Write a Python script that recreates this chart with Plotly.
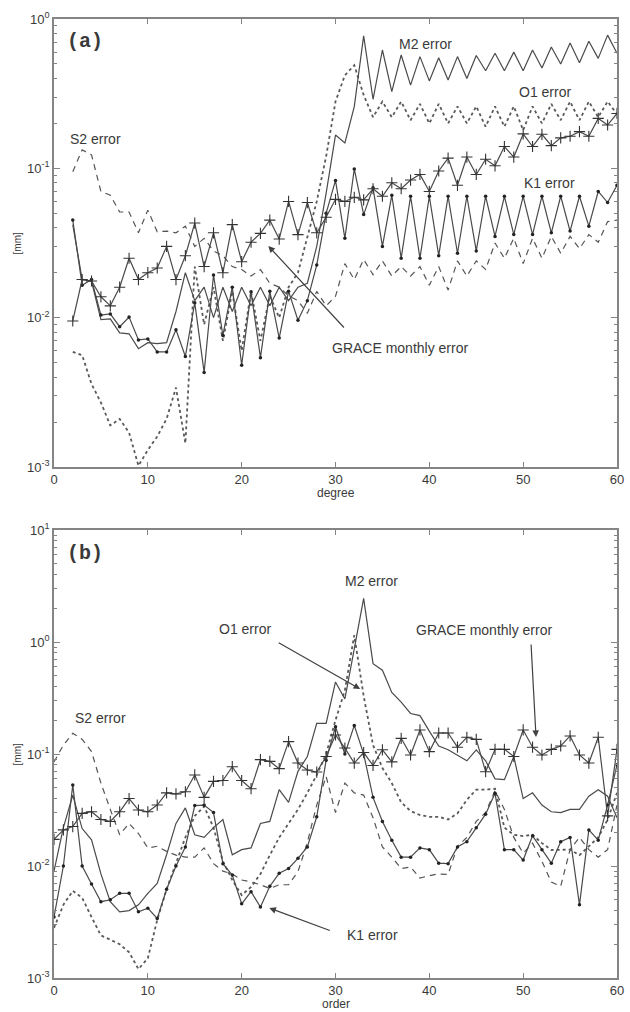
import plotly.graph_objects as go

# ---------------- data: panel (a) vs degree ----------------
degree = list(range(2, 61))

grace_a = [0.0095, 0.018, 0.0176, 0.0138, 0.012, 0.016, 0.025, 0.018, 0.020, 0.0215,
           0.030, 0.018, 0.026, 0.043, 0.022, 0.037, 0.020, 0.042, 0.0237, 0.032,
           0.0367, 0.045, 0.0336, 0.060, 0.036, 0.059, 0.037, 0.047, 0.062, 0.060,
           0.064, 0.0615, 0.073, 0.065, 0.080, 0.073, 0.0835, 0.091, 0.070, 0.096,
           0.117, 0.077, 0.119, 0.091, 0.115, 0.104, 0.140, 0.119, 0.170, 0.140,
           0.169, 0.142, 0.160, 0.164, 0.176, 0.164, 0.216, 0.195, 0.233]

k1_a = [0.045, 0.0165, 0.018, 0.0104, 0.0106, 0.0087, 0.0101, 0.0071, 0.0072, 0.0059,
        0.0059, 0.0083, 0.0055, 0.0126, 0.0043, 0.0193, 0.0076, 0.016, 0.0048, 0.0149,
        0.0054, 0.015, 0.0073, 0.015, 0.0096, 0.013, 0.0225, 0.050, 0.083, 0.034,
        0.099, 0.049, 0.074, 0.030, 0.066, 0.025, 0.065, 0.025, 0.065, 0.026,
        0.065, 0.027, 0.065, 0.028, 0.065, 0.035, 0.065, 0.036, 0.065, 0.036,
        0.065, 0.037, 0.065, 0.038, 0.065, 0.041, 0.070, 0.059, 0.077]

m2_a = [0.042, 0.018, 0.0175, 0.0097, 0.0098, 0.0079, 0.0078, 0.0062, 0.0068, 0.0067,
        0.0068, 0.011, 0.020, 0.013, 0.016, 0.010, 0.016, 0.011, 0.016, 0.012,
        0.016, 0.012, 0.016, 0.013, 0.016, 0.017, 0.030, 0.068, 0.167, 0.148,
        0.259, 0.77, 0.29, 0.62, 0.326, 0.574, 0.361, 0.56, 0.385, 0.55,
        0.39, 0.56, 0.40, 0.57, 0.45, 0.59, 0.45, 0.60, 0.45, 0.62,
        0.47, 0.65, 0.50, 0.69, 0.51, 0.71, 0.545, 0.78, 0.59]

o1_a = [0.0059, 0.0056, 0.0036, 0.0027, 0.0019, 0.0021, 0.0017, 0.00102, 0.0013, 0.0016,
        0.0021, 0.0034, 0.00144, 0.022, 0.009, 0.016, 0.007, 0.015, 0.006, 0.015,
        0.007, 0.014, 0.010, 0.016, 0.020, 0.035, 0.060, 0.12, 0.28, 0.42,
        0.49, 0.31, 0.22, 0.28, 0.22, 0.28, 0.21, 0.27, 0.20, 0.27,
        0.20, 0.26, 0.20, 0.26, 0.19, 0.26, 0.19, 0.26, 0.18, 0.26,
        0.20, 0.27, 0.21, 0.28, 0.21, 0.28, 0.22, 0.28, 0.23]

s2_a = [0.095, 0.133, 0.123, 0.070, 0.066, 0.051, 0.051, 0.037, 0.0525, 0.0376,
        0.038, 0.037, 0.041, 0.030, 0.034, 0.028, 0.026, 0.022, 0.021, 0.019,
        0.021, 0.017, 0.016, 0.014, 0.013, 0.0107, 0.015, 0.012, 0.0139, 0.023,
        0.018, 0.0245, 0.0194, 0.024, 0.019, 0.022, 0.019, 0.022, 0.0165, 0.022,
        0.0153, 0.024, 0.019, 0.024, 0.021, 0.0316, 0.025, 0.034, 0.023, 0.034,
        0.025, 0.035, 0.027, 0.035, 0.029, 0.036, 0.032, 0.044, 0.045]

# ---------------- data: panel (b) vs order ----------------
order = list(range(0, 61))

grace_b = [0.0173, 0.021, 0.0225, 0.0295, 0.0305, 0.026, 0.025, 0.0305, 0.040, 0.0316,
           0.0305, 0.035, 0.045, 0.044, 0.046, 0.065, 0.041, 0.057, 0.058, 0.077,
           0.058, 0.049, 0.089, 0.086, 0.074, 0.129, 0.083, 0.072, 0.069, 0.095,
           0.148, 0.113, 0.083, 0.103, 0.079, 0.109, 0.085, 0.138, 0.098, 0.164,
           0.105, 0.154, 0.154, 0.115, 0.141, 0.135, 0.0695, 0.110, 0.110, 0.095,
           0.164, 0.115, 0.098, 0.110, 0.118, 0.145, 0.098, 0.083, 0.141, 0.028,
           0.11]

m2_b = [0.009, 0.022, 0.043, 0.0216, 0.0171, 0.0085, 0.0048, 0.0039, 0.0040, 0.0045,
        0.0057, 0.0070, 0.0126, 0.024, 0.033, 0.019, 0.018, 0.022, 0.026, 0.0126,
        0.014, 0.0145, 0.024, 0.025, 0.048, 0.037, 0.070, 0.095, 0.188, 0.188,
        0.44, 0.31, 0.87, 2.45, 0.64, 0.56, 0.355, 0.29, 0.23, 0.22,
        0.16, 0.118, 0.109, 0.098, 0.087, 0.109, 0.087, 0.060, 0.059, 0.095,
        0.040, 0.045, 0.035, 0.0305, 0.030, 0.032, 0.032, 0.042, 0.048, 0.042,
        0.027]

k1_b = [0.0035, 0.010, 0.053, 0.010, 0.0069, 0.0048, 0.0050, 0.0057, 0.0057, 0.0039,
        0.0042, 0.0034, 0.0062, 0.010, 0.0148, 0.0346, 0.035, 0.030, 0.0105, 0.0083,
        0.0046, 0.0059, 0.0043, 0.0066, 0.0086, 0.0095, 0.0117, 0.0148, 0.0275, 0.088,
        0.175, 0.100, 0.180, 0.100, 0.041, 0.025, 0.017, 0.012, 0.012, 0.0145,
        0.014, 0.0106, 0.0105, 0.0148, 0.0165, 0.022, 0.029, 0.0447, 0.014, 0.014,
        0.0113, 0.0186, 0.014, 0.0106, 0.0165, 0.018, 0.0045, 0.021, 0.017, 0.035,
        0.080]

o1_b = [0.0028, 0.0045, 0.0060, 0.0052, 0.0035, 0.0024, 0.0022, 0.0020, 0.0017, 0.0012,
        0.0015, 0.0033, 0.0062, 0.0105, 0.018, 0.028, 0.034, 0.022, 0.011, 0.0075,
        0.0055, 0.0065, 0.0085, 0.0125, 0.018, 0.024, 0.032, 0.045, 0.065, 0.10,
        0.20, 0.37, 1.15, 0.33, 0.12, 0.075, 0.055, 0.037, 0.031, 0.0285,
        0.0275, 0.0275, 0.026, 0.0295, 0.039, 0.048, 0.048, 0.049, 0.022, 0.019,
        0.0185, 0.019, 0.016, 0.0139, 0.014, 0.014, 0.0125, 0.015, 0.018, 0.026,
        0.045]

s2_b = [0.085, 0.12, 0.153, 0.135, 0.105, 0.055, 0.032, 0.019, 0.024, 0.0195,
        0.0145, 0.015, 0.0135, 0.0125, 0.012, 0.012, 0.0145, 0.0105, 0.009, 0.0085,
        0.0075, 0.0072, 0.0068, 0.0063, 0.0068, 0.0068, 0.0089, 0.0162, 0.035, 0.063,
        0.030, 0.055, 0.045, 0.043, 0.027, 0.0148, 0.012, 0.0095, 0.0098, 0.0078,
        0.0082, 0.0085, 0.0084, 0.015, 0.018, 0.025, 0.030, 0.047, 0.032, 0.018,
        0.013, 0.016, 0.011, 0.0072, 0.0066, 0.014, 0.018, 0.014, 0.012, 0.014,
        0.035]

x_ticks = [0, 10, 20, 30, 40, 50, 60]
y_ticks_a = [1e-3, 1e-2, 1e-1, 1e0]
y_ticktext_a = ["10<sup>-3</sup>", "10<sup>-2</sup>", "10<sup>-1</sup>", "10<sup>0</sup>"]
y_ticks_b = [1e-3, 1e-2, 1e-1, 1e0, 1e1]
y_ticktext_b = ["10<sup>-3</sup>", "10<sup>-2</sup>", "10<sup>-1</sup>", "10<sup>0</sup>", "10<sup>1</sup>"]

# ---------------- styling ----------------
W, H = 630, 1012
ML, MR, MT, MB = 54, 6, 19, 34
LINE = "#4a4a4a"
AXC = "#858585"
TXT = "#3a3a3a"
FONT = "Liberation Sans, Arial, Helvetica, sans-serif"


def pxx(p):
    return (p - ML) / (W - ML - MR)


def pxy(p):
    return (H - MB - p) / (H - MT - MB)


fig = go.Figure()


def add_panel(xv, grace, k1, m2, o1, s2, xa, ya):
    fig.add_trace(go.Scatter(x=xv, y=s2, mode="lines", xaxis=xa, yaxis=ya,
                             line=dict(color="#555555", width=1.2, dash="6px,5px")))
    fig.add_trace(go.Scatter(x=xv, y=o1, mode="lines", xaxis=xa, yaxis=ya,
                             line=dict(color="#5a5a5a", width=1.8, dash="dot")))
    fig.add_trace(go.Scatter(x=xv, y=m2, mode="lines", xaxis=xa, yaxis=ya,
                             line=dict(color=LINE, width=1.2)))
    fig.add_trace(go.Scatter(x=xv, y=k1, mode="lines+markers", xaxis=xa, yaxis=ya,
                             line=dict(color=LINE, width=1.2),
                             marker=dict(symbol="circle", size=3.5, color="#222222")))
    fig.add_trace(go.Scatter(x=xv, y=grace, mode="lines+markers", xaxis=xa, yaxis=ya,
                             line=dict(color=LINE, width=1.2),
                             marker=dict(symbol="cross-thin", size=8,
                                         line=dict(color="#333333", width=1.1))))


add_panel(degree, grace_a, k1_a, m2_a, o1_a, s2_a, "x", "y")
add_panel(order, grace_b, k1_b, m2_b, o1_b, s2_b, "x2", "y2")


def minor_vals(lo, hi):
    vals = []
    for e in range(lo, hi):
        for m in range(2, 10):
            vals.append(m * 10 ** e)
    return vals


xcommon = dict(range=[0, 60], tickvals=x_ticks, ticks="inside", ticklen=5, tickwidth=1,
               tickcolor=AXC, showline=True, linecolor=AXC, linewidth=1.5, mirror="ticks",
               showgrid=False, zeroline=False,
               tickfont=dict(family=FONT, size=13, color=TXT))
ycommon = dict(type="log", ticks="inside", ticklen=6, tickwidth=1, tickcolor=AXC,
               showline=True, linecolor=AXC, linewidth=1.5, mirror="ticks",
               showgrid=False, zeroline=False,
               tickfont=dict(family=FONT, size=13, color=TXT))

ya_dom = [pxy(467), pxy(19)]
yb_dom = [pxy(978), pxy(530)]

fig.update_layout(
    width=W, height=H,
    margin=dict(l=ML, r=MR, t=MT, b=MB, pad=0),
    paper_bgcolor="white", plot_bgcolor="white",
    showlegend=False,
    xaxis=dict(domain=[0, 1], anchor="y", **xcommon),
    yaxis=dict(domain=ya_dom, anchor="x", range=[-3, 0], tickvals=y_ticks_a,
               ticktext=y_ticktext_a,
               minor=dict(tickmode="array", tickvals=minor_vals(-3, 0), ticks="inside",
                          ticklen=3, tickcolor=AXC, showgrid=False),
               **ycommon),
    xaxis2=dict(domain=[0, 1], anchor="y2", **xcommon),
    yaxis2=dict(domain=yb_dom, anchor="x2", range=[-3, 1], tickvals=y_ticks_b,
                ticktext=y_ticktext_b,
                minor=dict(tickmode="array", tickvals=minor_vals(-3, 1), ticks="inside",
                           ticklen=3, tickcolor=AXC, showgrid=False),
                **ycommon),
)

ann = []


def text(t, x, y, size=14, family=FONT, angle=0):
    ann.append(dict(text=t, x=pxx(x), y=pxy(y), xref="paper", yref="paper",
                    xanchor="center", yanchor="middle", showarrow=False,
                    textangle=angle, font=dict(family=family, size=size, color=TXT)))


def arrow(tail, head):
    ann.append(dict(text="", x=pxx(head[0]), y=pxy(head[1]), xref="paper", yref="paper",
                    ax=tail[0] - head[0], ay=tail[1] - head[1], axref="pixel", ayref="pixel",
                    showarrow=True, arrowhead=2, arrowsize=1.1, arrowwidth=1.2,
                    arrowcolor="#404040", standoff=0, startstandoff=0))


MONO = "Liberation Mono, Courier New, monospace"
# panel (a)
text("<b>(a)</b>", 85, 42, size=20, family=MONO)
text("S2 error", 96, 139)
text("M2 error", 430, 44)
text("O1 error", 551, 92)
text("K1 error", 556, 183)
text("GRACE monthly error", 404, 348)
arrow((348, 329), (271, 246))
text("[mm]", 17, 243, size=10, angle=-90)
text("degree", 339, 493, size=12)
# panel (b)
text("<b>(b)</b>", 85, 553, size=20, family=MONO)
text("M2 error", 375, 581)
text("O1 error", 247, 629)
text("GRACE monthly error", 489, 630)
text("S2 error", 101, 718)
text("K1 error", 376, 935)
arrow((281, 642), (364, 689))
arrow((537, 643), (542, 737))
arrow((334, 931), (272, 908))
text("[mm]", 17, 754, size=10, angle=-90)
text("order", 339, 1004, size=12)

fig.update_layout(annotations=ann)

fig.write_html("out.html",
               config={"displayModeBar": False},
               post_script="document.body.style.margin='0';document.body.style.padding='0';")
